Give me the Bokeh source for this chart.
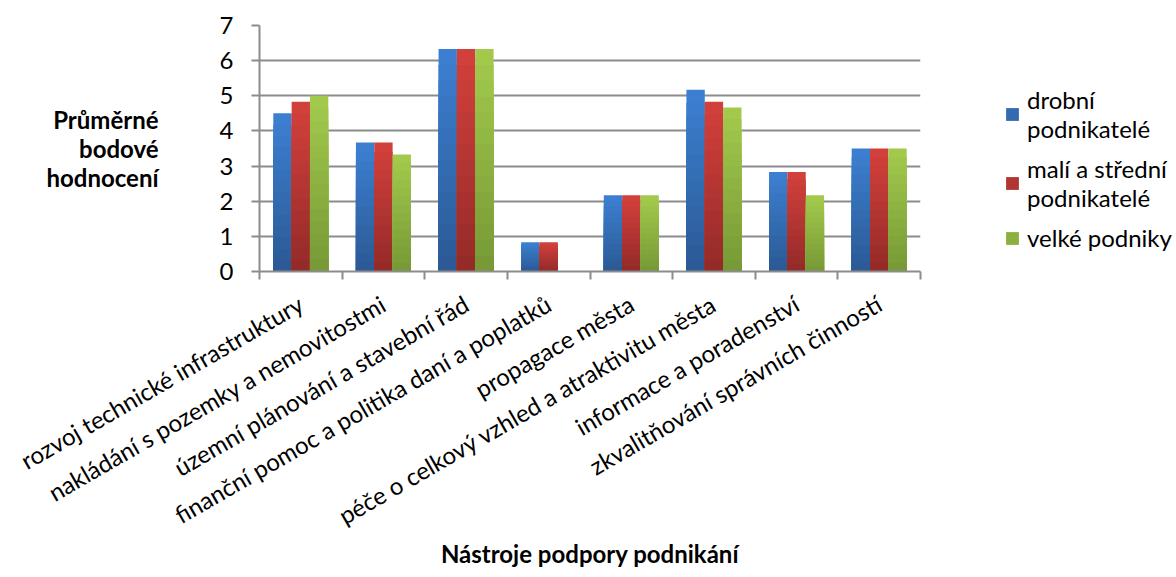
import math
from bokeh.plotting import figure
from bokeh.models import ColumnDataSource, FixedTicker, Range1d, Legend, LegendItem
from bokeh.embed import file_html
from bokeh.resources import INLINE

categories = [
    "rozvoj technické infrastruktury",
    "nakládání s pozemky a nemovitostmi",
    "územní plánování a stavební řád",
    "finanční pomoc a politika daní a poplatků",
    "propagace města",
    "péče o celkový vzhled a atraktivitu města",
    "informace a poradenství",
    "zkvalitňování správních činností",
]
series_names = ["drobní\npodnikatelé", "malí a střední\npodnikatelé", "velké podniky"]
drobni = [4.5, 3.67, 6.33, 0.83, 2.17, 5.17, 2.83, 3.5]
mali_stredni = [4.83, 3.67, 6.33, 0.83, 2.17, 4.83, 2.83, 3.5]
velke = [5.0, 3.33, 6.33, 0.0, 2.17, 4.67, 2.17, 3.5]
y_ticks = [0, 1, 2, 3, 4, 5, 6, 7]
y_title = "Průměrné\nbodové\nhodnocení"
x_title = "Nástroje podpory podnikání"

series = [drobni, mali_stredni, velke]
top_colors = ["#3c7fd0", "#d2403c", "#a2c94c"]
bottom_colors = ["#2b5a96", "#952b29", "#779a36"]

FONT = "Lato"
FS = "24px"
GRID = "#8c8c8c"
N_STEPS = 14
BAR_W = 0.222
offsets = [-BAR_W, 0.0, BAR_W]


def mix(c1, c2, t):
    a = [int(c1[i:i + 2], 16) for i in (1, 3, 5)]
    b = [int(c2[i:i + 2], 16) for i in (1, 3, 5)]
    return "#%02x%02x%02x" % tuple(round(a[j] + (b[j] - a[j]) * t) for j in range(3))


n = len(categories)
p = figure(
    frame_width=661, frame_height=246,
    min_border_left=259, min_border_right=255, min_border_top=25, min_border_bottom=305,
    x_range=Range1d(0, n), y_range=Range1d(0, 7),
    output_backend="svg", toolbar_location=None,
)
p.outline_line_color = None
p.background_fill_color = "white"
p.border_fill_color = "white"

# grid
p.xgrid.visible = False
p.ygrid.ticker = FixedTicker(ticks=y_ticks)
p.ygrid.grid_line_color = GRID
p.ygrid.grid_line_width = 2

# y axis
yax = p.yaxis[0]
yax.ticker = FixedTicker(ticks=y_ticks)
yax.axis_line_color = GRID
yax.axis_line_width = 2
yax.major_tick_line_color = GRID
yax.major_tick_line_width = 2
yax.major_tick_out = 8
yax.major_tick_in = 0
yax.minor_tick_line_color = None
yax.major_label_standoff = 18
yax.major_label_text_font = FONT
yax.major_label_text_font_size = FS
yax.major_label_text_color = "#000000"
yax.axis_label = y_title
yax.axis_label_orientation = "horizontal"
yax.axis_label_standoff = 58
yax.axis_label_text_font = FONT
yax.axis_label_text_font_size = FS
yax.axis_label_text_font_style = "bold"
yax.axis_label_text_color = "#000000"
yax.axis_label_text_align = "center"
yax.axis_label_text_line_height = 1.0

# x axis: labels at category centres, tick marks at category boundaries
centres = [i + 0.5 for i in range(n)]
xax = p.xaxis[0]
xax.ticker = FixedTicker(ticks=centres, minor_ticks=list(range(n + 1)))
xax.major_label_overrides = {c: lab for c, lab in zip(centres, categories)}
xax.major_label_orientation = math.pi / 6
xax.axis_line_color = GRID
xax.axis_line_width = 2
xax.major_tick_line_color = None
xax.major_tick_out = 0
xax.major_tick_in = 0
xax.minor_tick_line_color = GRID
xax.minor_tick_line_width = 2
xax.minor_tick_out = 8
xax.minor_tick_in = 0
xax.major_label_standoff = 22
xax.major_label_text_font = FONT
xax.major_label_text_font_size = FS
xax.major_label_text_color = "#000000"
xax.axis_label = x_title
xax.axis_label_standoff = -6
xax.axis_label_text_font = FONT
xax.axis_label_text_font_size = FS
xax.axis_label_text_font_style = "bold"
xax.axis_label_text_color = "#000000"

# bars with a stepped vertical gradient (light top, dark bottom)
items = []
for s, vals in enumerate(series):
    xs, tops, cols = [], [], []
    for k in range(N_STEPS):
        col = mix(top_colors[s], bottom_colors[s], k / (N_STEPS - 1))
        for i, v in enumerate(vals):
            xs.append(centres[i] + offsets[s])
            tops.append(v * (N_STEPS - k) / N_STEPS)
            cols.append(col)
    src = ColumnDataSource(dict(x=xs, top=tops, color=cols))
    r = p.vbar(x="x", top="top", bottom=0, width=BAR_W, fill_color="color",
               line_color=None, source=src)
    items.append(LegendItem(label=series_names[s], renderers=[r], index=n * (N_STEPS // 2)))

legend = Legend(items=items, location=(84, 19))
legend.label_text_font = FONT
legend.label_text_font_size = FS
legend.label_text_color = "#000000"
legend.label_text_line_height = 1.3
legend.glyph_width = 16
legend.glyph_height = 16
legend.label_standoff = 7
legend.spacing = 11
legend.padding = 0
legend.margin = 0
legend.border_line_color = None
legend.background_fill_alpha = 0
p.add_layout(legend, "right")

open("out.html", "w").write(file_html(p, INLINE))
